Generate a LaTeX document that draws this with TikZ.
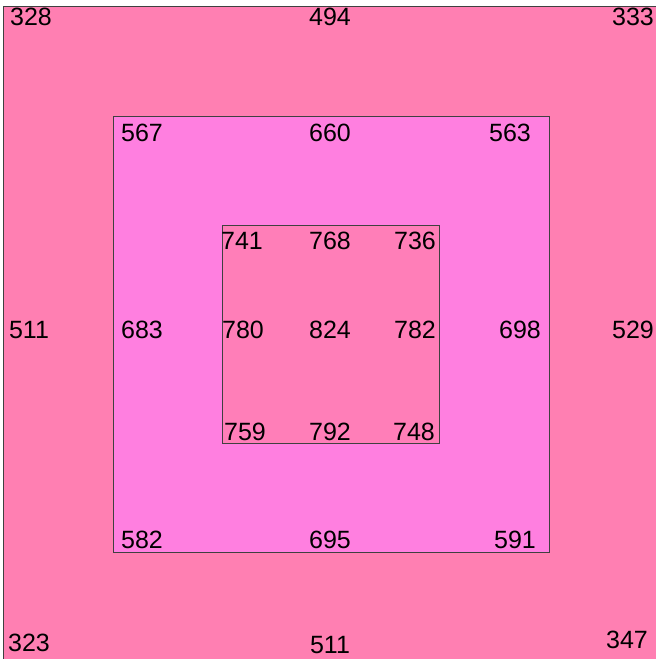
\documentclass[tikz,border=0pt]{standalone}
\usepackage{fontspec}
\setmainfont{Liberation Sans}
\usepackage{tikz}

\definecolor{ringout}{HTML}{FF7FB2}
\definecolor{ringmid}{HTML}{FF7FE0}
\definecolor{ringin}{HTML}{FF7EB8}
\definecolor{edge}{HTML}{404040}

\begin{document}
\begin{tikzpicture}[
    x=1pt, y=-1pt,
    val/.style={inner sep=0pt, font=\fontsize{25}{30}\selectfont},
    ring/.style={draw=edge, line width=0.9pt}
]
\clip (0,0) rectangle (656,659);
\fill[white] (0,0) rectangle (656,659);

% rings
\filldraw[ring, fill=ringout] (3,6) rectangle (670,670);
\filldraw[ring, fill=ringmid] (113,116) rectangle (549,552);
\filldraw[ring, fill=ringin] (222,225) rectangle (439,443);

% outer values
\node[val] (o11) at (31,17) {328};
\node[val] (o12) at (330,17) {494};
\node[val] (o13) at (633,17) {333};
\node[val] (o21) at (29,330) {511};
\node[val] (o23) at (633,330) {529};
\node[val] (o31) at (29,643) {323};
\node[val] (o32) at (330,645) {511};
\node[val] (o33) at (627,640) {347};

% middle values
\node[val] (m11) at (142,133) {567};
\node[val] (m12) at (330,133) {660};
\node[val] (m13) at (510,133) {563};
\node[val] (m21) at (142,330) {683};
\node[val] (m23) at (520,330) {698};
\node[val] (m31) at (142,540) {582};
\node[val] (m32) at (330,540) {695};
\node[val] (m33) at (515,540) {591};

% inner values
\node[val] (i11) at (242,241) {741};
\node[val] (i12) at (330,241) {768};
\node[val] (i13) at (415,241) {736};
\node[val] (i21) at (243,330) {780};
\node[val] (i22) at (330,330) {824};
\node[val] (i23) at (415,330) {782};
\node[val] (i31) at (245,432) {759};
\node[val] (i32) at (330,432) {792};
\node[val] (i33) at (414,432) {748};
\end{tikzpicture}
\end{document}
